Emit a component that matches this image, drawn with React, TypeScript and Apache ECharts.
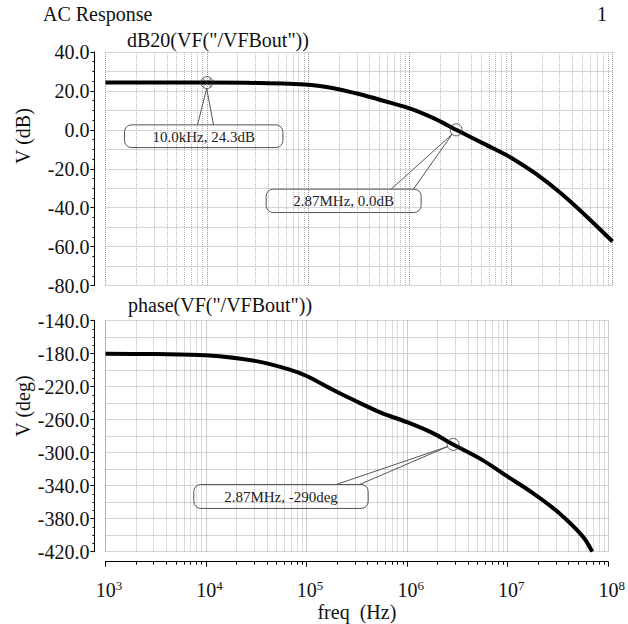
import { useEffect, useRef } from 'react';
import * as echarts from 'echarts';

const FONT = 'Liberation Serif';

// ---- data ----
const GAIN_FREQ = [1e3, 3.16e3, 1e4, 3.16e4, 1e5, 1.78e5, 3.16e5, 5.62e5, 1e6, 1.78e6, 2.87e6, 5.62e6, 1e7, 1.78e7, 3.16e7, 5.62e7, 1e8];
const GAIN_DB = [24.3, 24.3, 24.3, 24.1, 23.2, 21.4, 18.4, 14.8, 11.0, 5.6, 0.0, -7.6, -14.3, -22.8, -33.0, -44.8, -57.4];

const PHASE_FREQ = [1e3, 3.16e3, 1e4, 3.16e4, 6.67e4, 1e5, 1.78e5, 3.16e5, 5.62e5, 1e6, 1.78e6, 2.87e6, 5.62e6, 1e7, 1.78e7, 3.16e7, 5.62e7, 6.92e7];
const PHASE_DEG = [-180, -180.5, -182, -189, -199, -207, -223, -238, -252, -263, -276, -290, -309, -329, -349, -372, -402, -420];

const GAIN_MARK_FREQ = [1e4, 2.87e6];
const GAIN_MARK_VAL = [24.3, 0.0];
const GAIN_MARK_TEXT = ['10.0kHz, 24.3dB', '2.87MHz, 0.0dB'];
const GAIN_MARK_CROSS = [true, false];

const PHASE_MARK_FREQ = [2.87e6];
const PHASE_MARK_VAL = [-290];
const PHASE_MARK_TEXT = ['2.87MHz, -290deg'];

// minor vertical grid positions (2..9 per decade)
const MINOR_FREQS = [
  2e3, 3e3, 4e3, 5e3, 6e3, 7e3, 8e3, 9e3,
  2e4, 3e4, 4e4, 5e4, 6e4, 7e4, 8e4, 9e4,
  2e5, 3e5, 4e5, 5e5, 6e5, 7e5, 8e5, 9e5,
  2e6, 3e6, 4e6, 5e6, 6e6, 7e6, 8e6, 9e6,
  2e7, 3e7, 4e7, 5e7, 6e7, 7e7, 8e7, 9e7,
];

// ---- annotation box layout (pixel offsets from marker) ----
const GAIN_BOX = [
  { dx: -82.4, dy: 42.3, w: 158.4, h: 22.7, l1: -9.4, l2: 6.6 },
  { dx: -190, dy: 59.3, w: 155, h: 23.4, l1: -65, l2: -42.7 },
];
const PHASE_BOX = [{ dx: -259.4, dy: 40, w: 174.4, h: 24, l1: -116.7, l2: -93.4 }];

const MARK_R = 6;

function annotationRender(texts: string[], boxes: any[]) {
  return (params: any, api: any) => {
    const i = params.dataIndex;
    const p = api.coord([api.value(0), api.value(1)]);
    const b = boxes[i];
    const midX = (b.l1 + b.l2) / 2;
    const n = Math.sqrt(midX * midX + b.dy * b.dy);
    const sx = p[0] + (MARK_R * midX) / n;
    const sy = p[1] + (MARK_R * b.dy) / n;
    const top = p[1] + b.dy;
    return {
      type: 'group',
      children: [
        {
          type: 'line',
          shape: { x1: sx, y1: sy, x2: p[0] + b.l1, y2: top },
          style: { stroke: '#555', lineWidth: 1 },
        },
        {
          type: 'line',
          shape: { x1: sx, y1: sy, x2: p[0] + b.l2, y2: top },
          style: { stroke: '#555', lineWidth: 1 },
        },
        {
          type: 'rect',
          shape: { x: p[0] + b.dx, y: top, width: b.w, height: b.h, r: 7 },
          style: { fill: 'none', stroke: '#555', lineWidth: 1 },
        },
        {
          type: 'text',
          x: p[0] + b.dx + b.w / 2,
          y: top + b.h / 2 + 0.5,
          style: {
            text: texts[i],
            fontSize: 15,
            fontFamily: FONT,
            fill: '#222',
            align: 'center',
            verticalAlign: 'middle',
          },
        },
      ],
    };
  };
}

function vGridRender(yRef: number) {
  return (params: any, api: any) => {
    const cs = params.coordSys;
    const x = Math.round(api.coord([api.value(0), yRef])[0]) + 0.5;
    return {
      type: 'line',
      shape: { x1: x, y1: cs.y, x2: x, y2: cs.y + cs.height },
      style: { stroke: '#b8b8b8', lineWidth: 1, lineDash: [1, 1] },
      silent: true,
    };
  };
}

function minorTickRender(yRef: number) {
  return (params: any, api: any) => {
    const cs = params.coordSys;
    const x = Math.round(api.coord([api.value(0), yRef])[0]) + 0.5;
    const y0 = cs.y + cs.height + 10;
    return {
      type: 'line',
      shape: { x1: x, y1: y0, x2: x, y2: y0 + 3 },
      style: { stroke: '#000', lineWidth: 1 },
      silent: true,
    };
  };
}

export default function App() {
  const ref = useRef<HTMLDivElement>(null);

  useEffect(() => {
    if (!ref.current) return;
    const chart = echarts.init(ref.current, undefined, { renderer: 'svg' });

    const yLabel = {
      formatter: (v: number) => v.toFixed(1),
      fontSize: 20,
      fontFamily: FONT,
      color: '#111',
      margin: 5,
    };
    const mainY = {
      type: 'value',
      offset: 11,
      axisLine: { show: true, lineStyle: { color: '#000', width: 1 } },
      axisTick: { show: true, length: 4, lineStyle: { color: '#000' } },
      minorTick: { show: true, splitNumber: 4, length: 2, lineStyle: { color: '#000' } },
      axisLabel: yLabel,
      splitLine: { show: false },
    };
    const gridY = {
      type: 'value',
      axisLine: { show: false },
      axisTick: { show: false },
      axisLabel: { show: false },
      splitLine: { show: true, lineStyle: { color: '#aaa', type: [1, 1], width: 1 } },
    };
    const xBase = {
      type: 'log',
      logBase: 10,
      min: 1e3,
      max: 1e8,
      splitLine: { show: true, lineStyle: { color: '#999', type: [1, 1], width: 1 } },
    };
    const titleStyle = { fontSize: 20, fontFamily: FONT, fill: '#111', verticalAlign: 'middle' };

    const option: any = {
      animation: false,
      backgroundColor: '#ffffff',
      textStyle: { fontFamily: FONT },
      grid: [
        { left: 105.5, top: 52, width: 507, height: 233.5 },
        { left: 105.5, top: 320.7, width: 507, height: 231 },
      ],
      xAxis: [
        {
          ...xBase,
          gridIndex: 0,
          axisLine: { show: false },
          axisTick: { show: false },
          axisLabel: { show: false },
        },
        {
          ...xBase,
          gridIndex: 1,
          offset: 10,
          axisLine: { show: true, onZero: false, lineStyle: { color: '#000', width: 1 } },
          axisTick: { show: true, length: 5, lineStyle: { color: '#000' } },
          axisLabel: {
            margin: 17,
            formatter: (v: number) => `{b|10}{s|${Math.round(Math.log10(v))}}`,
            rich: {
              b: { fontSize: 20, fontFamily: FONT, color: '#111', lineHeight: 22, padding: [0, 0, 0, 7] },
              s: { fontSize: 13, fontFamily: FONT, color: '#111', lineHeight: 13, verticalAlign: 'top' },
            },
          },
          name: 'freq  (Hz)',
          nameLocation: 'middle',
          nameGap: 40,
          nameTextStyle: { fontSize: 20, fontFamily: FONT, color: '#111' },
        },
      ],
      yAxis: [
        { ...mainY, gridIndex: 0, min: -80, max: 40, interval: 20 },
        { ...gridY, gridIndex: 0, min: -80, max: 40, interval: 10 },
        { ...mainY, gridIndex: 1, min: -420, max: -140, interval: 40 },
        { ...gridY, gridIndex: 1, min: -420, max: -140, interval: 20 },
      ],
      graphic: [
        { type: 'text', x: 43, y: 14, style: { ...titleStyle, text: 'AC Response', align: 'left' } },
        { type: 'text', x: 602, y: 14, style: { ...titleStyle, text: '1', align: 'center' } },
        { type: 'text', x: 127, y: 40, style: { ...titleStyle, text: 'dB20(VF("/VFBout"))', align: 'left' } },
        { type: 'text', x: 128, y: 305, style: { ...titleStyle, text: 'phase(VF("/VFBout"))', align: 'left' } },
        { type: 'text', x: 23, y: 136, rotation: Math.PI / 2, style: { ...titleStyle, text: 'V (dB)', align: 'center' } },
        { type: 'text', x: 23, y: 406, rotation: Math.PI / 2, style: { ...titleStyle, text: 'V (deg)', align: 'center' } },
      ],
      series: [
        {
          type: 'custom',
          xAxisIndex: 0,
          yAxisIndex: 0,
          silent: true,
          z: 1,
          encode: { x: 0, y: 1 },
          data: MINOR_FREQS.map((f) => [f, 0]),
          renderItem: vGridRender(0),
        },
        {
          type: 'custom',
          xAxisIndex: 1,
          yAxisIndex: 2,
          silent: true,
          z: 1,
          encode: { x: 0, y: 1 },
          data: MINOR_FREQS.map((f) => [f, -300]),
          renderItem: vGridRender(-300),
        },
        {
          type: 'custom',
          xAxisIndex: 1,
          yAxisIndex: 2,
          silent: true,
          z: 3,
          encode: { x: 0, y: 1 },
          data: MINOR_FREQS.map((f) => [f, -300]),
          renderItem: minorTickRender(-300),
        },
        {
          type: 'line',
          xAxisIndex: 0,
          yAxisIndex: 0,
          data: GAIN_FREQ.map((f, i) => [f, GAIN_DB[i]]),
          showSymbol: false,
          smooth: 0.3,
          lineStyle: { color: '#000', width: 4 },
          z: 5,
          silent: true,
        },
        {
          type: 'line',
          xAxisIndex: 1,
          yAxisIndex: 2,
          data: PHASE_FREQ.map((f, i) => [f, PHASE_DEG[i]]),
          showSymbol: false,
          smooth: 0.3,
          lineStyle: { color: '#000', width: 4 },
          z: 5,
          silent: true,
        },
        {
          type: 'scatter',
          xAxisIndex: 0,
          yAxisIndex: 0,
          data: GAIN_MARK_FREQ.map((f, i) => [f, GAIN_MARK_VAL[i]]),
          symbol: 'circle',
          symbolSize: MARK_R * 2,
          itemStyle: { color: 'rgba(0,0,0,0)', borderColor: '#333', borderWidth: 1 },
          z: 6,
          silent: true,
        },
        {
          type: 'scatter',
          xAxisIndex: 0,
          yAxisIndex: 0,
          data: GAIN_MARK_FREQ.map((f, i) => [f, GAIN_MARK_VAL[i]]).filter((_, i) => GAIN_MARK_CROSS[i]),
          symbol: 'path://M0,0L10,10M10,0L0,10',
          symbolSize: 8.5,
          itemStyle: { color: 'rgba(0,0,0,0)', borderColor: '#333', borderWidth: 1 },
          z: 6,
          silent: true,
        },
        {
          type: 'scatter',
          xAxisIndex: 1,
          yAxisIndex: 2,
          data: PHASE_MARK_FREQ.map((f, i) => [f, PHASE_MARK_VAL[i]]),
          symbol: 'circle',
          symbolSize: MARK_R * 2,
          itemStyle: { color: 'rgba(0,0,0,0)', borderColor: '#333', borderWidth: 1 },
          z: 6,
          silent: true,
        },
        {
          type: 'custom',
          xAxisIndex: 0,
          yAxisIndex: 0,
          silent: true,
          z: 7,
          encode: { x: 0, y: 1 },
          data: GAIN_MARK_FREQ.map((f, i) => [f, GAIN_MARK_VAL[i]]),
          renderItem: annotationRender(GAIN_MARK_TEXT, GAIN_BOX),
        },
        {
          type: 'custom',
          xAxisIndex: 1,
          yAxisIndex: 2,
          silent: true,
          z: 7,
          encode: { x: 0, y: 1 },
          data: PHASE_MARK_FREQ.map((f, i) => [f, PHASE_MARK_VAL[i]]),
          renderItem: annotationRender(PHASE_MARK_TEXT, PHASE_BOX),
        },
      ],
    };

    chart.setOption(option);
    return () => chart.dispose();
  }, []);

  return (
    <div
      ref={ref}
      style={{ position: 'fixed', left: 0, top: 0, width: 628, height: 624, background: '#fff' }}
    />
  );
}
